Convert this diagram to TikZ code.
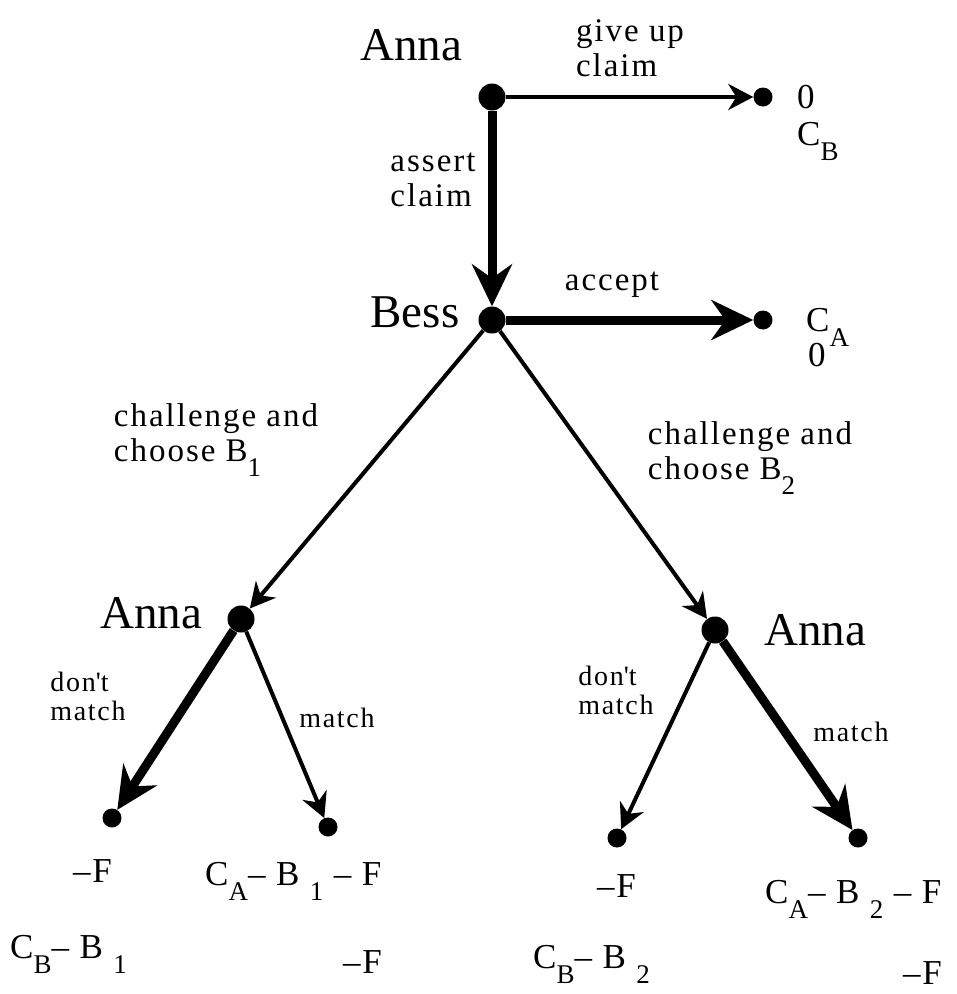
\documentclass[tikz,border=0pt]{standalone}
\usepackage{fontspec}
\setmainfont{Liberation Serif}
\usepackage{tikz}
\usetikzlibrary{arrows.meta,positioning,calc}
\newcommand{\playerfont}{\fontsize{47}{50}\selectfont}
\newcommand{\actionfont}{\fontsize{33}{35}\selectfont\addfontfeatures{LetterSpace=6}}
\newcommand{\smallfont}{\fontsize{28}{29}\selectfont\addfontfeatures{LetterSpace=6}}
\newcommand{\payfont}{\fontsize{35}{36}\selectfont\addfontfeatures{LetterSpace=5}}
\newcommand{\lowsub}[1]{\raisebox{-0.45em}{\fontsize{27}{27}\selectfont #1}}
\tikzset{
  decnode/.style={circle,fill=black,inner sep=0pt,minimum size=27pt},
  leafnode/.style={circle,fill=black,inner sep=0pt,minimum size=19pt},
  player/.style={font=\playerfont,inner sep=0pt},
  action/.style={font=\actionfont,align=left,inner sep=0pt},
  minor/.style={font=\smallfont,align=left,inner sep=0pt},
  payoff/.style={font=\payfont,anchor=base west,inner sep=0pt},
  move/.style={-{Stealth[length=25pt,width=26pt,inset=8pt]},line width=4pt},
  best/.style={-{Stealth[length=42pt,width=40pt,inset=14pt]},line width=9pt}
}
\begin{document}
\begin{tikzpicture}[x=1pt,y=-1pt]
  \useasboundingbox (0,0) rectangle (957,994);
  % decision nodes and leaves
  \node[decnode] (annaT) at (492,97) {};
  \node[leafnode] (giveup) at (763,97) {};
  \node[decnode] (bess) at (492,320) {};
  \node[leafnode] (accept) at (763,320) {};
  \node[decnode] (annaL) at (241,619) {};
  \node[decnode] (annaR) at (715,630) {};
  \node[leafnode] (leafLL) at (112,818) {};
  \node[leafnode] (leafLR) at (328,827) {};
  \node[leafnode] (leafRL) at (617,838) {};
  \node[leafnode] (leafRR) at (858,838) {};
  % players
  \node[player] (pAT) at (411,45) {Anna};
  \node[player] (pB) at (415,312) {Bess};
  \node[player] (pAL) at (151,613) {Anna};
  \node[player] (pAR) at (815,630) {Anna};
  % actions
  \node[action] (lgive) at (630,48) {give up\\claim};
  \node[action] (lassert) at (433,180) {assert\\claim};
  \node[action] (laccept) at (612,285) {accept};
  \node[action] (lch1) at (216,440) {challenge and\\choose B\lowsub{1}};
  \node[action] (lch2) at (750,458) {challenge and\\choose B\lowsub{2}};
  \node[minor] (ldmL) at (88,696) {don\textquotesingle t\\match};
  \node[minor] (lmL) at (337,718) {match};
  \node[minor] (ldmR) at (616,690) {don\textquotesingle t\\match};
  \node[minor] (lmR) at (851,732) {match};
  % payoffs
  \node[payoff] (pg1) at (797,108) {0};
  \node[payoff] (pg2) at (797,145) {C\lowsub{B}};
  \node[payoff] (pa1) at (806,331) {C\lowsub{A}};
  \node[payoff] (pa2) at (808,366) {0};
  \node[payoff] (pLL1) at (73,882) {--F};
  \node[payoff] (pLL2) at (10,958) {C\lowsub{B}-- B \lowsub{1}};
  \node[payoff] (pLR1) at (205,885) {C\lowsub{A}-- B \lowsub{1} -- F};
  \node[payoff] (pLR2) at (343,973) {--F};
  \node[payoff] (pRL1) at (597,897) {--F};
  \node[payoff] (pRL2) at (533,968) {C\lowsub{B}-- B \lowsub{2}};
  \node[payoff] (pRR1) at (765,903) {C\lowsub{A}-- B \lowsub{2} -- F};
  \node[payoff] (pRR2) at (903,984) {--F};
  % moves
  \draw[move] (annaT) -- (giveup);
  \draw[best] (annaT) -- (bess);
  \draw[best] (bess) -- (accept);
  \draw[move] (bess) -- (annaL);
  \draw[move] (bess) -- (annaR);
  \draw[best] (annaL) -- (leafLL);
  \draw[move] (annaL) -- (leafLR);
  \draw[move] (annaR) -- (leafRL);
  \draw[best] (annaR) -- (leafRR);
\end{tikzpicture}
\end{document}
